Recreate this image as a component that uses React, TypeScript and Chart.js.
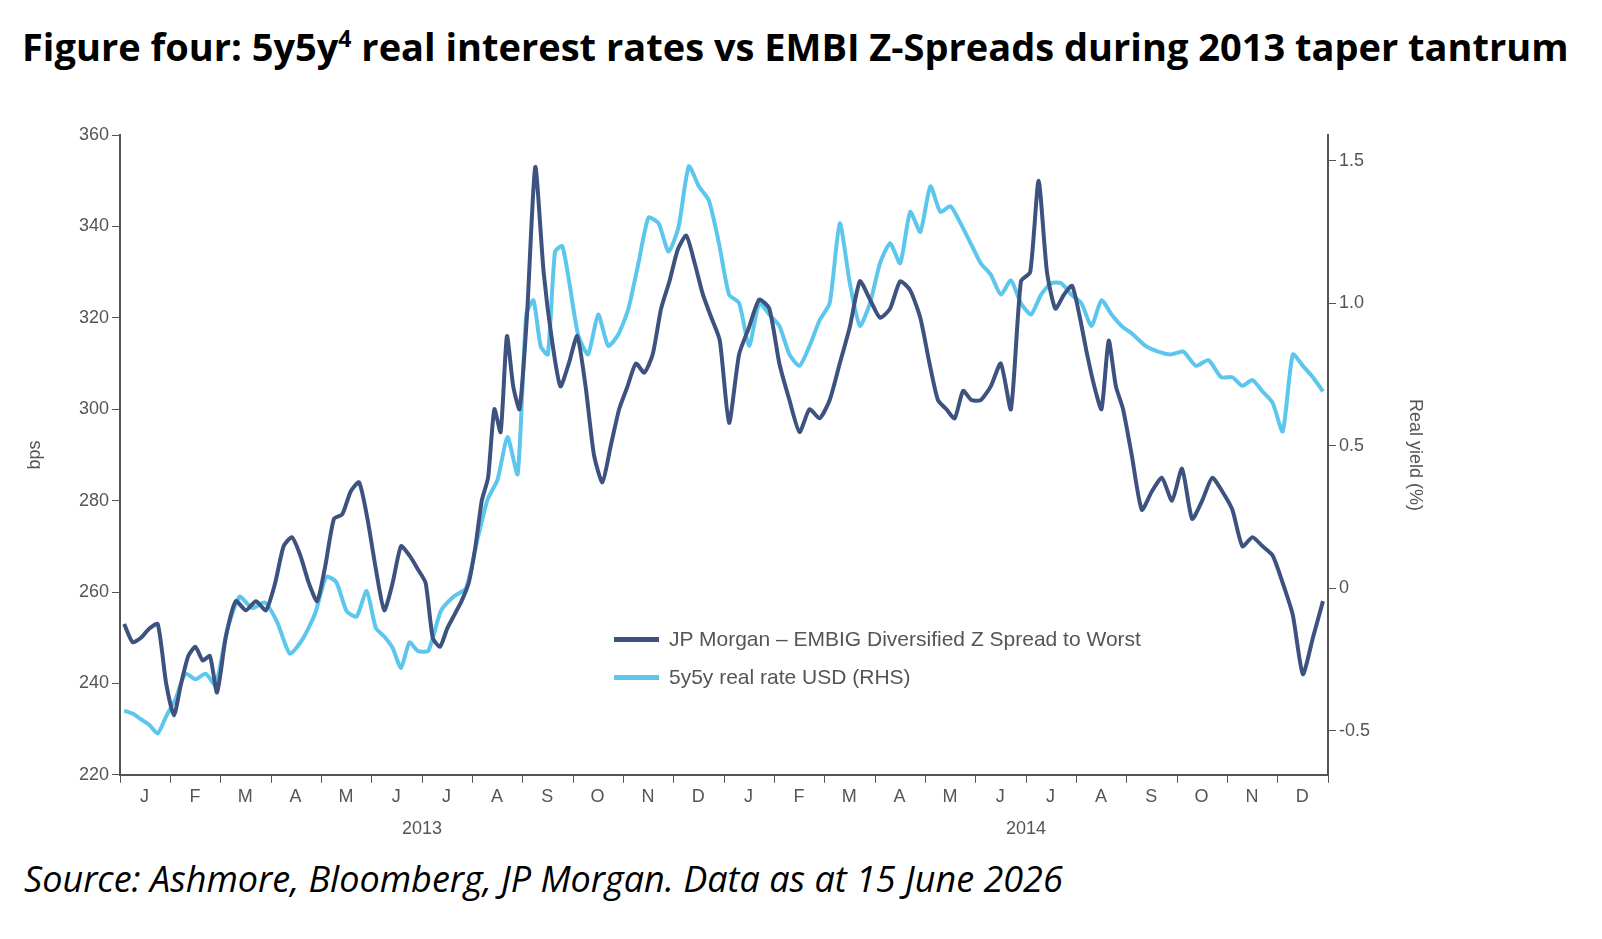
import React, { useEffect, useRef } from "react";
import { Chart, registerables } from "chart.js";
Chart.register(...registerables);

const monthLabels = ["J","F","M","A","M","J","J","A","S","O","N","D","J","F","M","A","M","J","J","A","S","O","N","D"];
const yearLabels = ["2013", "2014"];
const embiByMonth: number[][] = [
  [253, 249, 250, 252, 253, 240],
  [233, 240, 246, 248, 245, 246, 238],
  [250, 258, 256, 258, 256],
  [262, 270, 272, 268, 262, 258],
  [266, 276, 277, 282, 284, 276],
  [265, 256, 262, 270, 268, 265],
  [262, 250, 248, 252, 255, 258, 262],
  [270, 280, 285, 300, 295, 316, 305, 300],
  [320, 353, 330, 315, 305, 310],
  [316, 305, 290, 284, 292, 300],
  [305, 310, 308, 312, 322, 328],
  [335, 338, 332, 325, 320, 315],
  [297, 312, 318, 324, 322],
  [310, 302, 295, 300, 298],
  [302, 310, 318, 328, 324],
  [320, 322, 328, 326, 320],
  [310, 302, 300, 298, 304, 302],
  [302, 305, 310, 300, 328],
  [330, 350, 330, 322, 325, 327],
  [320, 312, 305, 300, 315, 305, 300],
  [290, 278, 282, 285, 280],
  [287, 276, 280, 285, 282],
  [278, 270, 272, 270, 268],
  [262, 255, 242, 250, 258],
];
const realByMonth: number[][] = [
  [-0.43, -0.44, -0.46, -0.48, -0.51, -0.45],
  [-0.39, -0.30, -0.32, -0.30, -0.34],
  [-0.15, -0.03, -0.07, -0.05],
  [-0.12, -0.23, -0.18, -0.09],
  [0.04, 0.02, -0.08, -0.10, -0.01],
  [-0.14, -0.17, -0.21, -0.28, -0.19, -0.22],
  [-0.22, -0.08, -0.03, 0.0],
  [0.17, 0.31, 0.38, 0.53, 0.40],
  [0.96, 1.01, 0.85, 0.82, 1.18, 1.2, 1.07],
  [0.89, 0.82, 0.96, 0.85, 0.89],
  [0.98, 1.14, 1.30, 1.28, 1.18],
  [1.27, 1.48, 1.41, 1.36, 1.21],
  [1.03, 1.0, 0.85, 1.0, 0.96],
  [0.92, 0.82, 0.78, 0.85, 0.94],
  [1.0, 1.28, 1.07, 0.92, 1.0],
  [1.14, 1.21, 1.14, 1.32, 1.25],
  [1.41, 1.32, 1.34, 1.28, 1.21],
  [1.14, 1.10, 1.03, 1.08, 1.0],
  [0.96, 1.03, 1.07, 1.07, 1.03],
  [1.0, 0.92, 1.01, 0.96, 0.92],
  [0.89, 0.85, 0.83, 0.82],
  [0.83, 0.78, 0.80, 0.74],
  [0.74, 0.71, 0.73, 0.69, 0.65],
  [0.55, 0.82, 0.78, 0.74, 0.69],
];

function toPoints(byMonth: number[][]) {
  const pts: { x: number; y: number }[] = [];
  byMonth.forEach((vals, m) => vals.forEach((v, i) => pts.push({ x: m + (i + 0.5) / vals.length, y: v })));
  return pts;
}

const DARK = "#3e5280";
const LIGHT = "#5cc6ec";
const AX = "#555";

export default function App() {
  const ref = useRef<HTMLCanvasElement>(null);
  useEffect(() => {
    const font = { family: "Liberation Sans, Arial", size: 18 };
    const chart = new Chart(ref.current!, {
      type: "line",
      data: {
        datasets: [
          { label: "JP Morgan – EMBIG Diversified Z Spread to Worst", data: toPoints(embiByMonth), borderColor: DARK, borderWidth: 4, pointRadius: 0, yAxisID: "y", tension: 0.2 },
          { label: "5y5y real rate USD (RHS)", data: toPoints(realByMonth), borderColor: LIGHT, borderWidth: 4, pointRadius: 0, yAxisID: "y1", tension: 0.2 },
        ],
      },
      options: {
        animation: false,
        responsive: false,
        layout: { padding: { left: 20, right: 172, top: 35, bottom: 0 } },
        plugins: { legend: { display: false }, tooltip: { enabled: false } },
        scales: {
          x: {
            type: "linear", min: 0, max: 24,
            afterBuildTicks: (s: any) => { s.ticks = Array.from({ length: 25 }, (_, i) => ({ value: i })); },
            ticks: { callback: (v: any) => monthLabels[v] ?? "", labelOffset: 24.6, maxRotation: 0, autoSkip: false, color: AX, font },
            grid: { drawOnChartArea: false, tickLength: 8, color: AX },
            border: { color: AX, width: 2 },
          },
          x2: {
            type: "linear", min: 0, max: 24, position: "bottom",
            afterBuildTicks: (s: any) => { s.ticks = [{ value: 6 }, { value: 18 }]; },
            ticks: { callback: (v: any) => (v === 6 ? yearLabels[0] : v === 18 ? yearLabels[1] : ""), color: AX, font, maxRotation: 0, padding: 0 },
            grid: { display: false },
            border: { display: false },
          },
          y: {
            position: "left", min: 220, max: 360,
            ticks: { stepSize: 20, color: AX, font },
            grid: { drawOnChartArea: false, tickLength: 8, color: AX },
            border: { color: AX, width: 2 },
            title: { display: true, text: "bps", color: AX, font },
            afterFit: (s: any) => { s.width = 100; },
          },
          y1: {
            position: "right", min: -0.655, max: 1.59,
            afterBuildTicks: (s: any) => { s.ticks = [-0.5, 0, 0.5, 1.0, 1.5].map((v) => ({ value: v })); },
            ticks: { callback: (v: any) => (v === 0 ? "0" : Number(v).toFixed(1)), color: AX, font },
            grid: { drawOnChartArea: false, tickLength: 8, color: AX },
            border: { color: AX, width: 2 },
            title: { display: true, text: "Real yield (%)", color: AX, font },
            afterFit: (s: any) => { s.width = 102; },
          },
        },
      },
    });
    return () => chart.destroy();
  }, []);
  const legendItem = (color: string, text: string) => (
    <div style={{ display: "flex", alignItems: "center", height: 38 }}>
      <div style={{ width: 45, height: 5, background: color, marginRight: 10 }} />
      <span>{text}</span>
    </div>
  );
  return (
    <div style={{ position: "relative", width: 1586, height: 923 }}>
      <div style={{ position: "absolute", left: 14, top: 12, fontFamily: "Open Sans, sans-serif", fontWeight: 700, fontSize: 38, whiteSpace: "nowrap" }}>
        Figure four: 5y5y<sup style={{ fontSize: 23 }}>4</sup> real interest rates vs EMBI Z-Spreads during 2013 taper tantrum
      </div>
      <canvas ref={ref} width={1602} height={740} style={{ position: "absolute", left: -8, top: 92 }} />
      <div style={{ position: "absolute", left: 606, top: 612, fontFamily: "Liberation Sans, Arial", fontSize: 21, color: AX }}>
        {legendItem(DARK, "JP Morgan – EMBIG Diversified Z Spread to Worst")}
        {legendItem(LIGHT, "5y5y real rate USD (RHS)")}
      </div>
      <div style={{ position: "absolute", left: 16, top: 846, fontFamily: "Open Sans, sans-serif", fontStyle: "italic", fontSize: 36, whiteSpace: "nowrap" }}>
        Source: Ashmore, Bloomberg, JP Morgan. Data as at 15 June 2026
      </div>
    </div>
  );
}
